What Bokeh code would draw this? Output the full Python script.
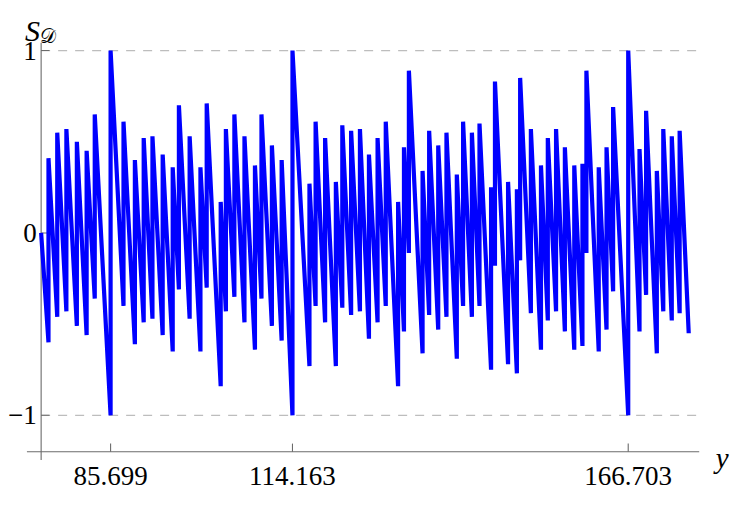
from bokeh.plotting import figure
from bokeh.models import Range1d
from bokeh.core.properties import value
from bokeh.embed import file_html
from bokeh.resources import INLINE

# ---------------- data ----------------
start_y, start_s = 74.83, 0.0
end_y, end_s = 176.17, -0.55

jump_y = [75.98, 77.35, 78.78, 80.42, 81.95, 83.22, 85.699, 87.72, 89.50, 90.88,
          92.25, 93.85, 95.42, 96.39, 98.07, 99.76, 100.74, 102.93, 103.74, 105.07,
          106.65, 108.29, 109.31, 110.94, 112.47, 114.163, 116.82, 117.78, 119.27, 120.95,
          121.96, 123.34, 124.72, 126.13, 127.48, 128.76, 130.69, 131.61, 132.38, 134.52,
          135.55, 136.97, 138.26, 139.88, 140.86, 142.24, 143.43, 145.24, 145.85, 147.90,
          149.28, 149.79, 151.47, 153.05, 154.12, 155.41, 156.79, 158.26, 159.54, 160.16,
          162.09, 163.31, 164.34, 166.703, 168.47, 169.50, 171.18, 172.19, 173.52, 174.75]

s_before = [-0.60, -0.46, -0.43, -0.51, -0.56, -0.36, -1.00, -0.40, -0.61, -0.49,
            -0.47, -0.56, -0.65, -0.31, -0.47, -0.65, -0.30, -0.84, -0.43, -0.35,
            -0.49, -0.64, -0.36, -0.51, -0.59, -1.00, -0.73, -0.40, -0.49, -0.73,
            -0.41, -0.45, -0.43, -0.58, -0.49, -0.40, -0.84, -0.54, -0.11, -0.66,
            -0.45, -0.53, -0.46, -0.69, -0.40, -0.46, -0.40, -0.75, -0.18, -0.72,
            -0.77, -0.15, -0.44, -0.64, -0.48, -0.43, -0.54, -0.64, -0.62, -0.11,
            -0.65, -0.53, -0.32, -1.00, -0.54, -0.34, -0.66, -0.43, -0.48, -0.44]

s_after = [0.41, 0.55, 0.57, 0.50, 0.45, 0.65, 1.00, 0.61, 0.40, 0.52,
           0.53, 0.43, 0.36, 0.70, 0.53, 0.36, 0.71, 0.17, 0.57, 0.65,
           0.53, 0.37, 0.65, 0.48, 0.40, 1.00, 0.27, 0.61, 0.52, 0.28,
           0.59, 0.56, 0.57, 0.43, 0.52, 0.61, 0.17, 0.47, 0.89, 0.34,
           0.56, 0.48, 0.55, 0.32, 0.61, 0.55, 0.60, 0.25, 0.83, 0.28,
           0.24, 0.85, 0.57, 0.37, 0.52, 0.57, 0.47, 0.37, 0.38, 0.89,
           0.36, 0.47, 0.69, 1.00, 0.46, 0.67, 0.34, 0.57, 0.53, 0.56]

x_ticks = [85.699, 114.163, 166.703]
x_tick_labels = ["85.699", "114.163", "166.703"]
y_ticks = [1, 0, -1]
y_tick_labels = ["1", "0", "\u22121"]
grid_levels = [1, -1]

# ---------------- build path ----------------
xs = [start_y]
ys = [start_s]
for yj, lo, hi in zip(jump_y, s_before, s_after):
    xs += [yj, yj]
    ys += [lo, hi]
xs.append(end_y)
ys.append(end_s)

# ---------------- layout ----------------
W, H = 731, 492
REF_W, REF_H = 747, 508
PXX, PXY = 6.53, 188.3      # reference pixels per data unit


def fx(px):  # reference-image x pixel -> data x (layout helper)
    return 85.699 + (px - 112.5) / PXX


def fy(py):  # reference-image y pixel -> data value (layout helper)
    return (240.0 - py) / PXY


p = figure(width=W, height=H, output_backend="svg", toolbar_location=None,
           x_range=Range1d(fx(0), fx(REF_W)), y_range=Range1d(fy(REF_H), fy(0)),
           min_border=0, outline_line_color=None)
p.axis.visible = False
p.grid.visible = False
p.background_fill_color = "white"
p.border_fill_color = "white"

AXIS_X = start_y          # vertical axis at the start of the data
AXIS_S = fy(466)          # horizontal axis level
x_ax_lo, x_ax_hi = fx(27), fx(714)
y_ax_lo, y_ax_hi = fy(474.5), fy(43.5)
tick_dx = 8.5 / PXX
tick_dy = 8.5 / PXY
AX_COL = "#6b6b6b"

# dashed gridlines
p.segment(x0=[AXIS_X] * len(grid_levels), y0=grid_levels,
          x1=[fx(716)] * len(grid_levels), y1=grid_levels,
          line_color="#bdbdbd", line_width=1.2, line_dash="9 8")

# axes
p.segment(x0=[x_ax_lo, AXIS_X], y0=[AXIS_S, y_ax_lo],
          x1=[x_ax_hi, AXIS_X], y1=[AXIS_S, y_ax_hi],
          line_color=AX_COL, line_width=1.1)
# ticks
p.segment(x0=[AXIS_X] * len(y_ticks), y0=y_ticks,
          x1=[AXIS_X + tick_dx] * len(y_ticks), y1=y_ticks,
          line_color=AX_COL, line_width=1.1)
p.segment(x0=x_ticks, y0=[AXIS_S] * len(x_ticks),
          x1=x_ticks, y1=[AXIS_S + tick_dy] * len(x_ticks),
          line_color=AX_COL, line_width=1.1)

# data line
p.line(xs, ys, line_color="#0000ff", line_width=4.2)

FONT = value("Liberation Serif")
# tick labels
p.text(x=x_ticks, y=[fy(500)] * len(x_ticks), text=x_tick_labels,
       text_font=FONT, text_font_size="27px", text_align="center",
       text_baseline="bottom", text_color="black")
p.text(x=[fx(37)] * len(y_ticks), y=y_ticks, text=y_tick_labels,
       text_font=FONT, text_font_size="27px", text_align="right",
       text_baseline="middle", text_color="black")

# axis titles
p.text(x=[fx(25)], y=[fy(30.5)], text=["S"], text_font=FONT, text_font_size="30px",
       text_font_style="italic", text_align="left", text_baseline="alphabetic",
       text_color="black")
p.text(x=[fx(40)], y=[fy(37)], text=["\U0001D49F"], text_font=value("DejaVu Sans"),
       text_font_size="20px", text_align="left", text_baseline="alphabetic",
       text_color="black")
p.text(x=[fx(731)], y=[fy(472)], text=["y"], text_font=FONT, text_font_size="29px",
       text_font_style="italic", text_align="left", text_baseline="alphabetic",
       text_color="black")

open("out.html", "w").write(file_html(p, INLINE))
